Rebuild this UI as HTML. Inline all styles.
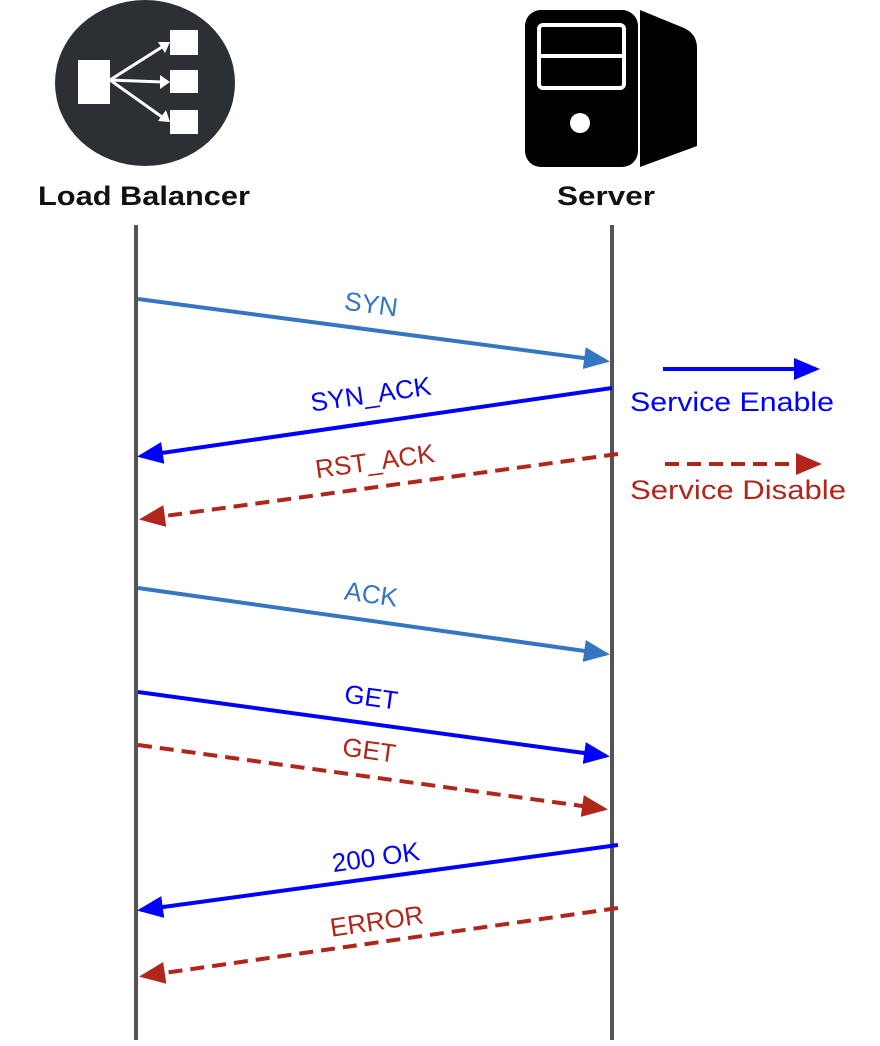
<!DOCTYPE html>
<html><head><meta charset="utf-8"><style>html,body{margin:0;padding:0;background:#fff}svg{display:block}</style></head>
<body>
<svg width="880" height="1046" viewBox="0 0 880 1046" xmlns="http://www.w3.org/2000/svg" font-family="'Liberation Sans', sans-serif">
<defs>
<marker id="mSt" markerWidth="28" markerHeight="24" refX="22" refY="11" orient="auto" markerUnits="userSpaceOnUse"><path d="M0,0 L26,11 L0,22 z" fill="#3476c2"/></marker>
<marker id="mB" markerWidth="28" markerHeight="24" refX="22" refY="11" orient="auto" markerUnits="userSpaceOnUse"><path d="M0,0 L26,11 L0,22 z" fill="#0000ff"/></marker>
<marker id="mR" markerWidth="28" markerHeight="24" refX="22" refY="11" orient="auto" markerUnits="userSpaceOnUse"><path d="M0,0 L26,11 L0,22 z" fill="#b0261b"/></marker>
</defs>
<!-- LB icon -->
<ellipse cx="145" cy="83" rx="90" ry="83" fill="#2c3034"/>
<rect x="78" y="60" width="32" height="44" fill="#fff"/>
<rect x="170" y="30" width="28" height="25" fill="#fff"/>
<rect x="170" y="70" width="28" height="23" fill="#fff"/>
<rect x="170" y="110" width="28" height="24" fill="#fff"/>
<g stroke="#fff" stroke-width="3"><line x1="110" y1="80" x2="162" y2="47"/><line x1="110" y1="80" x2="162" y2="82"/><line x1="110" y1="80" x2="162" y2="117"/></g>
<g fill="#fff"><path d="M170,42 L158,42 L165,53z"/><path d="M170,82 L160,75 L160,89z"/><path d="M170,122 L166,110 L158,121z"/></g>
<!-- Server icon -->
<path d="M640,10 L684,28 Q697,34 697,48 L697,146 L640,167 z" fill="#000"/>
<rect x="525" y="10" width="113" height="157" rx="16" fill="#000"/>
<rect x="539" y="25" width="85" height="63" rx="4" fill="none" stroke="#fff" stroke-width="4"/>
<line x1="539" y1="56" x2="624" y2="56" stroke="#fff" stroke-width="4"/>
<circle cx="580" cy="123" r="10" fill="#fff"/>
<!-- titles -->
<text x="144" y="205" font-size="27" font-weight="bold" text-anchor="middle" fill="#111" textLength="212" lengthAdjust="spacingAndGlyphs">Load Balancer</text>
<text x="606" y="205" font-size="27" font-weight="bold" text-anchor="middle" fill="#111" textLength="98" lengthAdjust="spacingAndGlyphs">Server</text>
<!-- lifelines -->
<line x1="136" y1="225" x2="136" y2="1040" stroke="#555" stroke-width="4"/>
<line x1="612" y1="225" x2="612" y2="1040" stroke="#555" stroke-width="4"/>
<!-- arrows -->
<line x1="138" y1="299" x2="606" y2="361" stroke="#3476c2" stroke-width="4" marker-end="url(#mSt)"/>
<line x1="612" y1="388" x2="141" y2="456" stroke="#0000ff" stroke-width="4" marker-end="url(#mB)"/>
<line x1="618" y1="454" x2="143" y2="519" stroke="#b0261b" stroke-width="4" stroke-dasharray="14,8" marker-end="url(#mR)"/>
<line x1="138" y1="588" x2="606" y2="654" stroke="#3476c2" stroke-width="4" marker-end="url(#mSt)"/>
<line x1="138" y1="692" x2="606" y2="756" stroke="#0000ff" stroke-width="4" marker-end="url(#mB)"/>
<line x1="138" y1="745" x2="604" y2="809" stroke="#b0261b" stroke-width="4" stroke-dasharray="14,8" marker-end="url(#mR)"/>
<line x1="618" y1="845" x2="141" y2="910" stroke="#0000ff" stroke-width="4" marker-end="url(#mB)"/>
<line x1="618" y1="908" x2="143" y2="976" stroke="#b0261b" stroke-width="4" stroke-dasharray="14,8" marker-end="url(#mR)"/>
<!-- labels -->
<g font-size="26" text-anchor="middle">
<text transform="translate(370,313) rotate(7.6)" fill="#3476c2">SYN</text>
<text transform="translate(372,403) rotate(-8.2)" fill="#0000ff">SYN_ACK</text>
<text transform="translate(376,470) rotate(-7.9)" fill="#b0261b">RST_ACK</text>
<text transform="translate(370,603) rotate(8)" fill="#3476c2">ACK</text>
<text transform="translate(370,706) rotate(7.8)" fill="#0000ff">GET</text>
<text transform="translate(368,759) rotate(7.8)" fill="#b0261b">GET</text>
<text transform="translate(377,866) rotate(-8)" fill="#0000ff">200 OK</text>
<text transform="translate(378,930) rotate(-8.3)" fill="#b0261b">ERROR</text>
</g>
<!-- legend -->
<line x1="663" y1="369" x2="816" y2="369" stroke="#0000ff" stroke-width="4" marker-end="url(#mB)"/>
<text x="630" y="411" font-size="27" fill="#0000ff" textLength="204" lengthAdjust="spacingAndGlyphs">Service Enable</text>
<line x1="665" y1="464" x2="818" y2="464" stroke="#b0261b" stroke-width="4" stroke-dasharray="14,8" marker-end="url(#mR)"/>
<text x="630" y="499" font-size="27" fill="#b0261b" textLength="216" lengthAdjust="spacingAndGlyphs">Service Disable</text>
</svg>
</body></html>
